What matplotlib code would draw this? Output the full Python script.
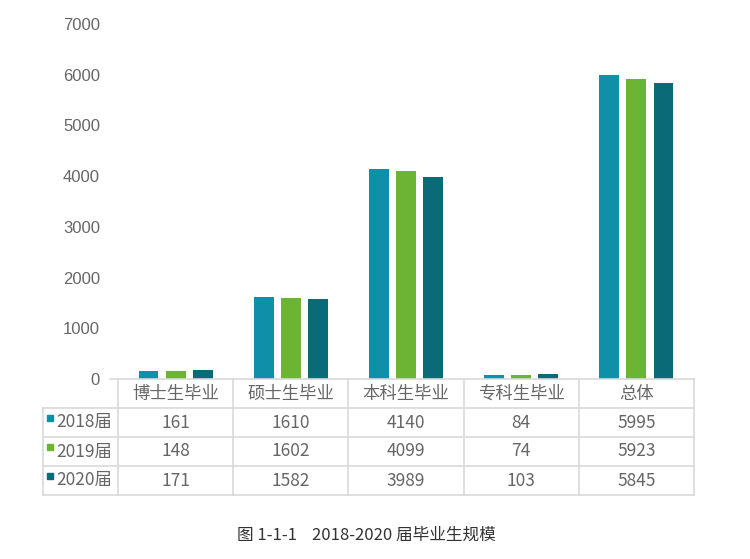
import matplotlib
matplotlib.use("Agg")
import matplotlib.pyplot as plt
from matplotlib.lines import Line2D
from matplotlib.patches import Rectangle

plt.rcParams['font.family'] = ['Noto Sans CJK SC', 'DejaVu Sans']

categories = ["博士生毕业", "硕士生毕业", "本科生毕业", "专科生毕业", "总体"]
series_names = ["2018届", "2019届", "2020届"]
v2018 = [161, 1610, 4140, 84, 5995]
v2019 = [148, 1602, 4099, 74, 5923]
v2020 = [171, 1582, 3989, 103, 5845]
series_values = [v2018, v2019, v2020]
colors = ["#0F8FA8", "#6CB433", "#0B6A77"]
yticks = [0, 1000, 2000, 3000, 4000, 5000, 6000, 7000]
caption = "图 1-1-1    2018-2020 届毕业生规模"

W, H = 750, 559
fig = plt.figure(figsize=(W / 100, H / 100), dpi=100)

def fx(px):
    return px / W

def fy(py):
    return 1 - py / H

ax_left, ax_right, ax_top, ax_bottom = 118, 694, 24, 379
ax = fig.add_axes([fx(ax_left), fy(ax_bottom), fx(ax_right - ax_left), (ax_bottom - ax_top) / H])
n = len(categories)
x = list(range(n))
bw = 0.172
offs = [-0.236, 0.0, 0.236]
for vals, c, o in zip(series_values, colors, offs):
    ax.bar([xi + o for xi in x], vals, width=bw, color=c, zorder=3)
ax.set_xlim(-0.5, n - 0.5)
ax.set_ylim(0, 7000)
ax.set_yticks(yticks)
ax.set_yticklabels([str(t) for t in yticks], color="#666666", fontsize=12,
                   family=['Liberation Sans', 'DejaVu Sans'])
ax.tick_params(axis='y', length=0, pad=13)
ax.set_xticks([])
for s in ax.spines.values():
    s.set_visible(False)

# table
grid = "#D9D9D9"
txtc = "#666666"
tbl_left = 43
col_w = (ax_right - ax_left) / n
row_ys = [379, 408, 437, 466, 495]

def hline(y, x0, x1):
    fig.add_artist(Line2D([fx(x0), fx(x1)], [fy(y), fy(y)], color=grid, lw=1.2))

def vline(xp, y0, y1):
    fig.add_artist(Line2D([fx(xp), fx(xp)], [fy(y0), fy(y1)], color=grid, lw=1.2))

hline(row_ys[0], 110, ax_right)
for y in row_ys[1:]:
    hline(y, tbl_left, ax_right)
vline(tbl_left, row_ys[1], row_ys[-1])
for i in range(n + 1):
    vline(ax_left + i * col_w, row_ys[0], row_ys[-1])

for i, cat in enumerate(categories):
    cx = ax_left + (i + 0.5) * col_w
    fig.text(fx(cx), fy((row_ys[0] + row_ys[1]) / 2), cat, ha='center', va='center',
             fontsize=12.5, color=txtc)
for r, (name, vals, c) in enumerate(zip(series_names, series_values, colors)):
    cy = (row_ys[r + 1] + row_ys[r + 2]) / 2
    fig.add_artist(Rectangle((fx(47), fy(cy - 2)), fx(6), 6 / H, color=c,
                             transform=fig.transFigure))
    fig.text(fx(56), fy(cy), name, ha='left', va='center', fontsize=12.5, color=txtc)
    for i, v in enumerate(vals):
        cx = ax_left + (i + 0.5) * col_w
        fig.text(fx(cx), fy(cy), str(v), ha='center', va='center', fontsize=12.5, color=txtc)

fig.text(fx(366), fy(535), caption, ha='center', va='center', fontsize=12, color="#333333")

fig.savefig("out.png", dpi=100, facecolor="white")
